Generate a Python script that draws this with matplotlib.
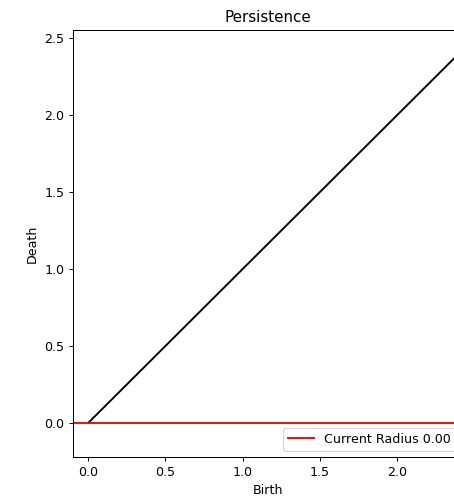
import matplotlib
matplotlib.use("Agg")
from matplotlib import pyplot as plt

# diagonal of the persistence diagram and the current filtration radius
diag_x = [0.0, 2.44]
diag_y = [0.0, 2.44]
radius = 0.0

DPI = 91
fig = plt.figure(figsize=(454 / DPI, 497 / DPI), dpi=DPI)
# axes run a little past the right edge of the canvas
ax = fig.add_axes([73 / 454, 40 / 497, 389 / 454, 427 / 497])

ax.plot(diag_x, diag_y, color="k", linewidth=1.5)
ax.axhline(radius, color="red", linewidth=1.5, label=f"Current Radius {radius:.2f}")

ax.set_xlim(-0.097, 2.419)
ax.set_ylim(-0.22, 2.552)
ax.set_xticks([0.0, 0.5, 1.0, 1.5, 2.0])
ax.set_yticks([0.0, 0.5, 1.0, 1.5, 2.0, 2.5])
ax.set_title("Persistence")
ax.set_xlabel("Birth")
ax.set_ylabel("Death")
ax.legend(loc="lower right")

fig.savefig("out.png", dpi=DPI)
